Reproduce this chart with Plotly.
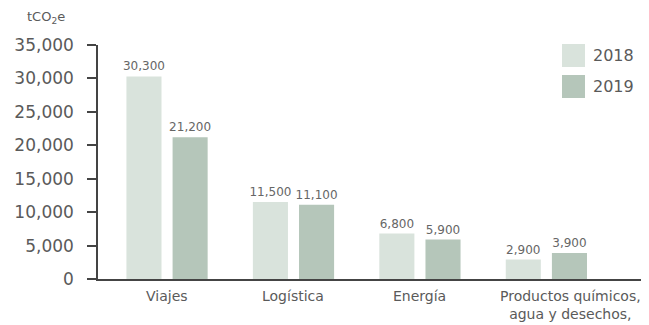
import plotly.graph_objects as go

categories = ["Viajes", "Logística", "Energía", "Productos químicos,<br>agua y desechos,"]
years = ["2018", "2019"]
values_2018 = [30300, 11500, 6800, 2900]
values_2019 = [21200, 11100, 5900, 3900]
y_ticks = [0, 5000, 10000, 15000, 20000, 25000, 30000, 35000]
colors = {"2018": "#d9e3dc", "2019": "#b5c6ba"}
FONT = "DejaVu Sans, sans-serif"
GREY = "#5a5a5a"

# page body has an 8px margin: figure is drawn from (8, 8)
W, H = 641, 317
L, R, T, B = 90, 4, 37, 46
PW, PH = W - L - R, H - T - B

def px(xpage):
    return (xpage - 8 - L) / PW

def py(ypage):
    return (H - B - (ypage - 8)) / PH

fig = go.Figure()
for yr, vals in zip(years, [values_2018, values_2019]):
    fig.add_trace(go.Bar(
        x=list(range(len(categories))), y=vals, name=yr,
        marker=dict(color=colors[yr], line=dict(width=0)),
        text=[f"{v:,}" for v in vals], textposition="outside",
        textfont=dict(size=12, color="#666666", family=FONT),
        constraintext="none", cliponaxis=False, showlegend=False,
    ))

fig.update_layout(
    width=W, height=H,
    margin=dict(l=L, r=R, t=T, b=B),
    paper_bgcolor="white", plot_bgcolor="white",
    barmode="group", bargap=0.27, bargroupgap=0.24,
    font=dict(family=FONT, color=GREY),
    xaxis=dict(range=[-0.546, 3.78], showticklabels=False, showgrid=False,
               showline=True, linecolor="#444444", linewidth=1.5, ticks="",
               zeroline=False, fixedrange=True),
    yaxis=dict(range=[0, 35000], tickvals=y_ticks, tickformat=",",
               ticks="outside", ticklen=9, tickcolor="#444444", tickwidth=1.5,
               showline=True, linecolor="#444444", linewidth=1.5,
               showgrid=False, zeroline=False, ticklabelstandoff=10,
               tickfont=dict(size=17, color=GREY, family=FONT)),
)

# category labels
for i, c in enumerate(categories):
    fig.add_annotation(x=i, y=0, xref="x", yref="y", text=c, showarrow=False,
                       yanchor="top", yshift=-7, xshift=24 if i == 3 else 0,
                       font=dict(size=14, color=GREY, family=FONT), align="center")

# unit label
fig.add_annotation(x=px(67), y=py(18), xref="paper", yref="paper", text="tCO<sub>2</sub>e",
                   showarrow=False, xanchor="right", yanchor="middle",
                   font=dict(size=13, color=GREY, family=FONT))

# legend
legend_rows = [(44, 67), (75, 98)]
for yr, (top, bot) in zip(years, legend_rows):
    fig.add_shape(type="rect", xref="paper", yref="paper",
                  x0=px(562), x1=px(585), y0=py(bot), y1=py(top),
                  fillcolor=colors[yr], line=dict(width=0))
    fig.add_annotation(xref="paper", yref="paper", x=px(591), y=py((top + bot) / 2), text=yr,
                       showarrow=False, xanchor="left", yanchor="middle",
                       font=dict(size=16, color=GREY, family=FONT))

fig.write_html("out.html")
